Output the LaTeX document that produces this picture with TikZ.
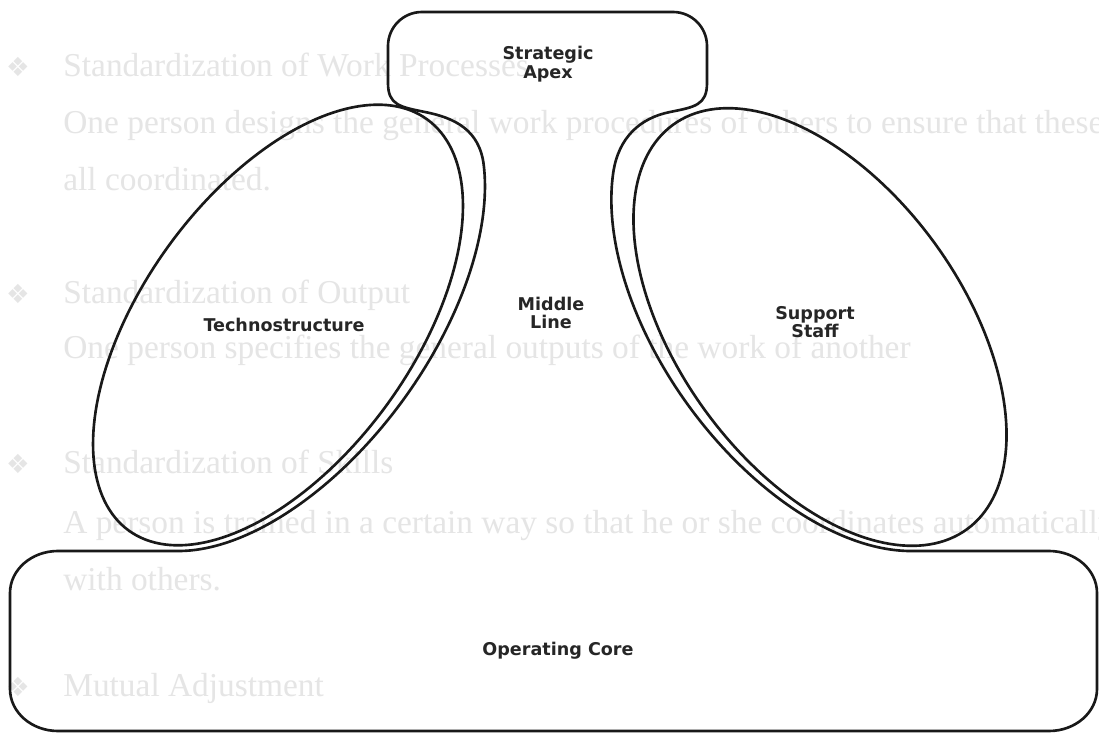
\documentclass[tikz,border=0pt]{standalone}
\usepackage{fontspec}
\setmainfont{Liberation Serif}
\newfontfamily\labelfont{DejaVu Sans}
\newfontfamily\symbolfont{DejaVu Sans}

\tikzset{
  outline/.style={draw=black!90, line width=1.5pt, line join=round},
  partlabel/.style={font=\labelfont\bfseries\fontsize{10}{10.5}\selectfont,
    text=black!85, align=center, inner sep=0pt},
  faint/.style={font=\fontsize{19}{19}\selectfont, text=black!10,
    anchor=base west, inner sep=0pt},
  faintbullet/.style={font=\symbolfont\fontsize{15}{15}\selectfont,
    text=black!10, anchor=base, inner sep=0pt}
}

\begin{document}
\begin{tikzpicture}[x=0.02cm, y=-0.02cm]
  \useasboundingbox (0,0) rectangle (1099,733);
  \fill[white] (0,0) rectangle (1099,733);

  % text printed on the reverse of the sheet, showing through
  \node[faintbullet] (b1) at (18,77) {❖};
  \node[faint] (f1) at (63,77) {Standardization of Work Processes};
  \node[faint] (f2) at (63,134) {One person designs the general work procedures of others to ensure that these are};
  \node[faint] (f3) at (63,191) {all coordinated.};
  \node[faintbullet] (b2) at (18,303) {❖};
  \node[faint] (f4) at (63,303) {Standardization of Output};
  \node[faint] (f5) at (63,358) {One person specifies the general outputs of the work of another};
  \node[faintbullet] (b3) at (18,473) {❖};
  \node[faint] (f6) at (63,473) {Standardization of Skills};
  \node[faint] (f7) at (63,533) {A person is trained in a certain way so that he or she coordinates automatically};
  \node[faint] (f8) at (63,590) {with others.};
  \node[faintbullet] (b4) at (18,696) {❖};
  \node[faint] (f9) at (63,696) {Mutual Adjustment};

  % strategic apex, middle line and operating core as one outline
  \draw[outline]
    (388,83) .. controls (388,105) and (400,107) .. (425,112)
             .. controls (455,118) and (479.7,130) .. (483.8,165.5)
    -- plot[domain=-30:-159, samples=130]
         ({286.1+160.5*cos(\x)-117.4*sin(\x)}, {314.2-220.9*cos(\x)-85.3*sin(\x)})
    -- (58,551) .. controls (31.5,551) and (10,569.8) .. (10,593)
    -- (10,689) .. controls (10,712.2) and (31.5,731) .. (58,731)
    -- (1049,731) .. controls (1075.5,731) and (1097,712.2) .. (1097,689)
    -- (1097,593) .. controls (1097,569.8) and (1075.5,551) .. (1049,551)
    -- plot[domain=-22:-150, samples=129]
         ({811.9+158*cos(\x)+123.5*sin(\x)}, {315.7+217.5*cos(\x)-89.8*sin(\x)})
       .. controls (618.5,137.6) and (640,118) .. (670,112)
       .. controls (695,107) and (707,105) .. (707,83)
    -- (707,46) .. controls (707,27.2) and (691.8,12) .. (673,12)
    -- (422,12) .. controls (403.2,12) and (388,27.2) .. (388,46)
    -- cycle;

  % technostructure
  \draw[outline] plot[domain=0:360, samples=181]
    ({278+149.3*cos(\x)-109.2*sin(\x)}, {325-205.5*cos(\x)-79.4*sin(\x)}) -- cycle;

  % support staff
  \draw[outline] plot[domain=0:360, samples=181]
    ({820+146.95*cos(\x)+114.9*sin(\x)}, {327+202.25*cos(\x)-83.5*sin(\x)}) -- cycle;

  % part names
  \node[partlabel] (apex) at (548,64) {Strategic\\Apex};
  \node[partlabel] (middle) at (551,313) {Middle\\Line};
  \node[partlabel] (techno) at (284,325) {Technostructure};
  \node[partlabel] (support) at (815,322) {Support\\Staff};
  \node[partlabel] (core) at (558,651) {Operating Core};
\end{tikzpicture}
\end{document}
